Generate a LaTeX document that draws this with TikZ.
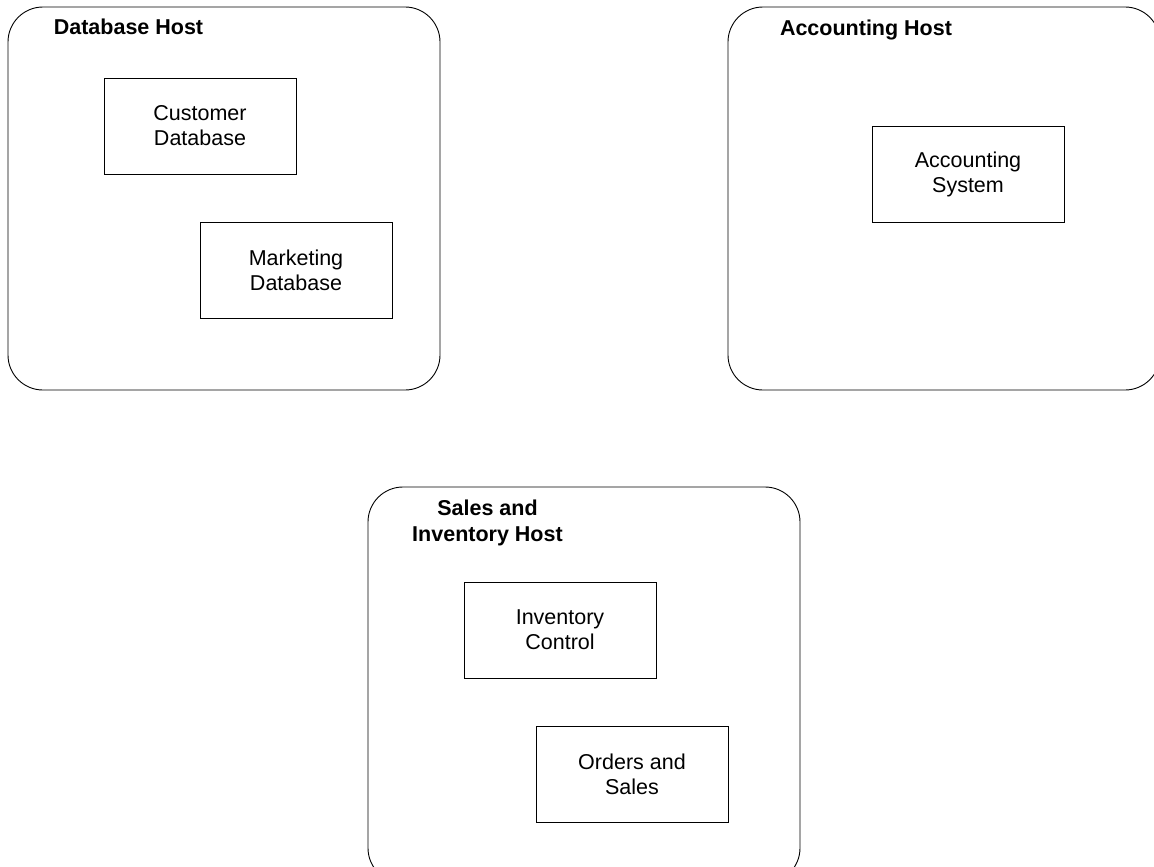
\documentclass[tikz,border=0pt]{standalone}
\usepackage{fontspec}
\setmainfont{Liberation Sans}
\begin{document}
\begin{tikzpicture}[x=1pt,y=-1pt,
  hostbox/.style={draw, line width=0.9pt, rounded corners=35pt, inner sep=0pt},
  compbox/.style={draw, line width=0.9pt, minimum width=192pt, minimum height=96pt, inner sep=0pt, align=center, font=\fontsize{21.5}{25}\selectfont},
  hostlabel/.style={inner sep=0pt, align=center, font=\fontsize{21.5}{26}\selectfont\bfseries}]
\useasboundingbox (0,0) rectangle (1154,867);
\clip (0,0) rectangle (1154,867);
% hosts
\node[hostbox, minimum width=432pt, minimum height=383pt] (dbhost) at (224,198.5) {};
\node[hostbox, minimum width=432pt, minimum height=383pt] (acchost) at (944,198.5) {};
\node[hostbox, minimum width=432pt, minimum height=396pt] (saleshost) at (584,685) {};
% host labels
\node[hostlabel, anchor=base] (dblabel) at (128.5,35) {Database Host};
\node[hostlabel, anchor=base] (acclabel) at (866,36) {Accounting Host};
\node[hostlabel, anchor=base] (saleslabel) at (487.5,541) {Sales and\\Inventory Host};
% components
\node[compbox] (custdb) at (200,126) {Customer\\Database};
\node[compbox] (mktdb) at (296,270) {Marketing\\Database};
\node[compbox] (accsys) at (968,174) {Accounting\\System};
\node[compbox] (invctl) at (560,630) {Inventory\\Control};
\node[compbox] (orders) at (632,774) {Orders and\\Sales};
\end{tikzpicture}
\end{document}
